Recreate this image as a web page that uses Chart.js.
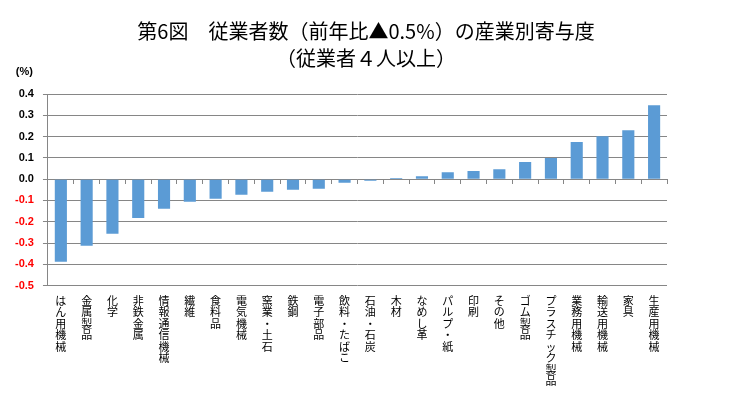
<!DOCTYPE html>
<html>
<head>
<meta charset="utf-8">
<script src="https://cdn.jsdelivr.net/npm/chart.js@4/dist/chart.umd.min.js"></script>
<style>
  html, body { margin: 0; padding: 0; background: #fff; }
  #wrap { width: 755px; height: 394px; }
</style>
</head>
<body>
<div id="wrap"><canvas id="chart"></canvas></div>
<script>
const industries = ["はん用機械", "金属製品", "化学", "非鉄金属", "情報通信機械", "繊維", "食料品", "電気機械",
    "窯業・土石", "鉄鋼", "電子部品", "飲料・たばこ", "石油・石炭", "木材", "なめし革", "パルプ・紙",
    "印刷", "その他", "ゴム製品", "プラスチック製品", "業務用機械", "輸送用機械", "家具", "生産用機械"];
const contribution = [-0.388, -0.313, -0.257, -0.182, -0.139, -0.106, -0.092, -0.073,
    -0.059, -0.050, -0.045, -0.017, -0.008, 0.005, 0.014, 0.033,
    0.038, 0.047, 0.080, 0.099, 0.174, 0.202, 0.230, 0.347];
const yTicks = [0.4, 0.3, 0.2, 0.1, 0.0, -0.1, -0.2, -0.3, -0.4, -0.5];
const titleLines = ["第6図　従業者数（前年比▲0.5%）の産業別寄与度", "（従業者４人以上）"];
const unitLabel = "(%)";

const jpFont = "'Noto Sans CJK JP', 'Noto Sans', sans-serif";
const gridGray = '#868686';

// (%) above the y axis
const unitPlugin = {
    id: 'unit',
    afterDraw(chart) {
        const c = chart.ctx;
        const y = chart.scales.y;
        c.save();
        c.font = "bold 11px 'Liberation Sans', Arial, sans-serif";
        c.fillStyle = '#000';
        c.textAlign = 'right';
        c.textBaseline = 'middle';
        c.fillText(unitLabel, y.right - 15, y.top - 22);
        c.restore();
    }
};

new Chart(document.getElementById('chart'), {
    type: 'bar',
    data: {
        labels: industries,
        datasets: [{
            data: contribution,
            backgroundColor: '#5B9BD5',
            barPercentage: 0.47,
            categoryPercentage: 1.0,
            xAxisID: 'x',
            yAxisID: 'y'
        }]
    },
    options: {
        responsive: true,
        maintainAspectRatio: false,
        animation: false,
        layout: { padding: { left: 6, right: 29, top: 0, bottom: -2 } },
        plugins: {
            legend: { display: false },
            tooltip: { enabled: false },
            title: {
                display: true,
                text: titleLines,
                color: '#000',
                font: { family: jpFont, size: 20, weight: 'normal', lineHeight: 1.35 },
                padding: { top: 18, bottom: 22 }
            }
        },
        scales: {
            x: {
                position: 'bottom',
                grid: { display: false, drawTicks: false },
                border: { display: false },
                ticks: {
                    maxRotation: 0,
                    minRotation: 0,
                    autoSkip: false,
                    padding: 9,
                    color: '#000',
                    font: { family: jpFont, size: 11, lineHeight: 1.05 },
                    callback: function(value) {
                        return Array.from(this.getLabelForValue(value));
                    }
                }
            },
            x2: {
                type: 'category',
                position: { y: 0 },
                offset: true,
                grid: {
                    offset: true,
                    drawOnChartArea: false,
                    drawTicks: true,
                    tickLength: 4,
                    color: gridGray
                },
                border: { display: true, color: gridGray },
                ticks: { display: false }
            },
            y: {
                min: -0.5,
                max: 0.4,
                afterBuildTicks: axis => { axis.ticks = yTicks.map(v => ({ value: v })); },
                grid: { color: gridGray, tickLength: 5 },
                border: { display: true, color: gridGray },
                ticks: {
                    padding: 9,
                    font: { family: "'Liberation Sans', Arial, sans-serif", size: 11, weight: 'bold' },
                    color: ctx => ctx.tick.value < -1e-9 ? '#FF0000' : '#000',
                    callback: v => v.toFixed(1)
                }
            },
            // empty margin on the right, as in the original sheet
            yRight: {
                position: 'right',
                grid: { display: false, drawTicks: false },
                border: { display: false },
                ticks: { display: false },
                afterFit: axis => { axis.width = 59; }
            }
        }
    },
    plugins: [unitPlugin]
});
</script>
</body>
</html>
